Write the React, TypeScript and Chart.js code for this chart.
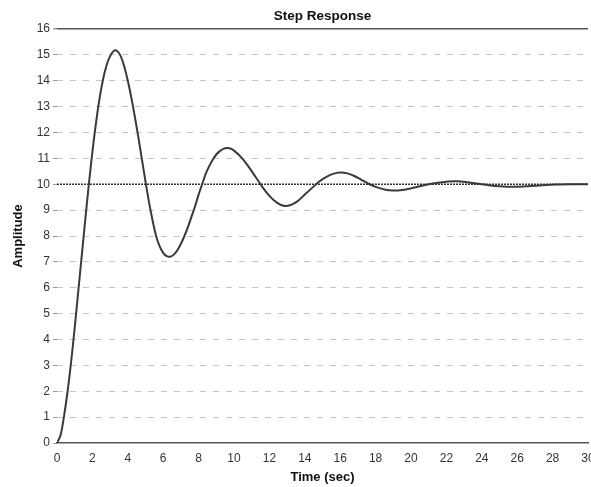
import React, { useEffect, useRef } from "react";
import { Chart, registerables } from "chart.js";

Chart.register(...registerables);

const timeSec: number[] = [
  0, 0.2, 0.4, 0.6, 0.8, 1.0, 1.2, 1.4, 1.6, 1.8, 2.0, 2.2, 2.4, 2.6, 2.8, 3.0, 3.2, 3.4, 3.6, 3.8,
  4.0, 4.2, 4.4, 4.6, 4.8, 5.0, 5.2, 5.4, 5.6, 5.8, 6.0, 6.2, 6.4, 6.6, 6.8, 7.0, 7.2, 7.4, 7.6, 7.8,
  8.0, 8.2, 8.4, 8.6, 8.8, 9.0, 9.2, 9.4, 9.6, 9.8, 10.0, 10.4, 10.8, 11.2, 11.6, 12.0, 12.4, 12.8,
  13.2, 13.6, 14.0, 14.4, 14.8, 15.2, 15.6, 16.0, 16.4, 16.8, 17.2, 17.6, 18.0, 18.5, 19.0, 19.5,
  20.0, 20.5, 21.0, 21.5, 22.0, 22.6, 23.2, 23.8, 24.4, 25.0, 25.8, 26.6, 27.4, 28.2, 29.0, 30.0,
];
const amplitude: number[] = [
  0, 0.3, 1.05, 2.0, 3.15, 4.45, 5.85, 7.25, 8.65, 10.0, 11.25, 12.35, 13.3, 14.05, 14.6, 14.95, 15.15, 15.15, 14.95, 14.55,
  14.0, 13.35, 12.6, 11.8, 10.95, 10.1, 9.3, 8.6, 8.0, 7.6, 7.35, 7.22, 7.2, 7.28, 7.45, 7.7, 8.0, 8.35, 8.75, 9.15,
  9.6, 10.0, 10.4, 10.7, 10.95, 11.15, 11.28, 11.37, 11.4, 11.38, 11.3, 11.05, 10.7, 10.3, 9.9, 9.55, 9.3, 9.17,
  9.2, 9.35, 9.6, 9.85, 10.1, 10.28, 10.4, 10.45, 10.42, 10.32, 10.17, 10.02, 9.9, 9.8, 9.76, 9.78,
  9.84, 9.92, 10.0, 10.06, 10.1, 10.12, 10.08, 10.02, 9.96, 9.92, 9.9, 9.92, 9.96, 9.99, 10.0, 10.0,
];
const finalValueTimes: number[] = [0, 30];
const finalValue: number[] = [10, 10];

const xTickStep = 2;
const yTickStep = 1;
const xMin = 0, xMax = 30, yMin = 0, yMax = 16;

const FONT = "'Liberation Sans', Arial, sans-serif";

export default function App() {
  const ref = useRef<HTMLCanvasElement | null>(null);

  useEffect(() => {
    document.body.style.margin = "0";
    const canvas = ref.current!;
    const chart = new Chart(canvas, {
      type: "line",
      data: {
        datasets: [
          {
            label: "Final value",
            data: finalValueTimes.map((t, i) => ({ x: t, y: finalValue[i] })),
            borderColor: "#333",
            borderWidth: 1.6,
            borderDash: [2, 1],
            pointRadius: 0,
          },
          {
            label: "Step response",
            data: timeSec.map((t, i) => ({ x: t, y: amplitude[i] })),
            borderColor: "#3a3a3a",
            borderWidth: 2,
            pointRadius: 0,
            tension: 0.35,
          },
        ],
      },
      options: {
        animation: false,
        responsive: true,
        maintainAspectRatio: false,
        layout: { padding: { left: 0, right: 16, top: 0, bottom: 0 } },
        plugins: {
          legend: { display: false },
          tooltip: { enabled: false },
          title: {
            display: true,
            fullSize: false,
            text: "Step Response",
            color: "#111",
            font: { family: FONT, size: 13.5, weight: "bold" },
            padding: { top: 8, bottom: 4.8 },
          },
        },
        scales: {
          x: {
            type: "linear",
            min: xMin,
            max: xMax,
            afterFit: (s: any) => { s.height = 44; },
            ticks: {
              stepSize: xTickStep,
              color: "#333",
              font: { family: FONT, size: 12 },
              padding: 3,
              maxRotation: 0,
            },
            grid: { display: false, drawTicks: true, tickLength: 5 },
            border: { display: true, color: "#555", width: 1.5 },
            title: {
              display: true,
              text: "Time (sec)",
              color: "#111",
              font: { family: FONT, size: 13, weight: "bold" },
              padding: { top: 2, bottom: 2 },
            },
          },
          y: {
            type: "linear",
            min: yMin,
            max: yMax,
            afterFit: (s: any) => { s.width = 57; },
            ticks: {
              stepSize: yTickStep,
              color: "#333",
              font: { family: FONT, size: 12 },
              padding: 3,
            },
            grid: {
              drawTicks: true,
              tickLength: 4,
              color: (c: any) => {
                const v = c.tick?.value;
                if (v === 16) return "#555";
                if (v === 10 || v === 0) return "rgba(0,0,0,0)";
                return "#c4c4c4";
              },
              tickColor: "#999",
              lineWidth: (c: any) => (c.tick?.value === 16 ? 1.5 : 1),
            },
            border: {
              display: false,
              dash: (c: any) => (c.tick?.value === 16 ? [] : [6, 7]),
            },
            title: {
              display: true,
              text: "Amplitude",
              color: "#111",
              font: { family: FONT, size: 13, weight: "bold" },
              padding: { top: 11, bottom: 0 },
            },
          },
        },
      },
    } as any);
    return () => chart.destroy();
  }, []);

  return (
    <div style={{ width: 591, height: 487, overflow: "hidden", position: "relative", background: "#fff" }}>
      <div style={{ position: "absolute", left: 0, top: 0, width: 604, height: 487 }}>
        <canvas ref={ref} />
      </div>
    </div>
  );
}
